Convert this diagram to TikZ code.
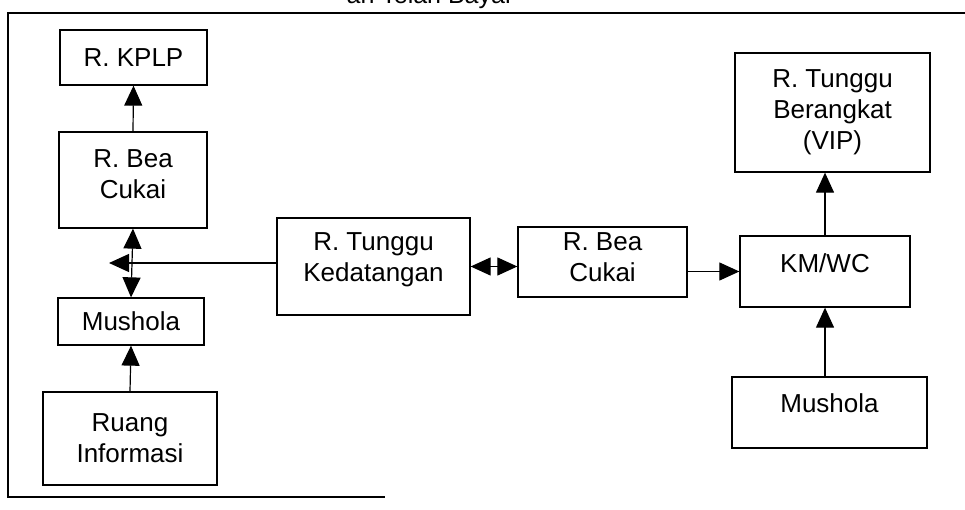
\documentclass[tikz,border=0pt]{standalone}
\usepackage{fontspec}
\setmainfont{Liberation Sans}
\usetikzlibrary{arrows.meta}

\tikzset{
	room/.style={draw, line width=1.3pt, align=center, inner sep=0pt,
		font=\fontsize{26}{31}\selectfont},
	lift/.style={text depth=#1},
	arr/.style={line width=1.2pt, -{Triangle[length=20pt,width=18pt]}},
	dbl/.style={line width=1.2pt, {Triangle[length=20pt,width=18pt]}-{Triangle[length=20pt,width=18pt]}}
}

\begin{document}
\begin{tikzpicture}[x=1pt,y=-1pt]
\useasboundingbox (0,0) rectangle (965,510);

% caption cut off at the top of the page
\begin{scope}
	\clip (0,0) rectangle (965,510);
	\node[anchor=base, inner sep=0pt, font=\fontsize{25}{30}\selectfont] (cap) at (430,4) {an Telah Bayar};
\end{scope}

% frame
\draw[line width=1.3pt] (965,13) -- (8,13) -- (8,497) -- (385,497);

% left column
\node[room, minimum width=147pt, minimum height=55pt] (kplp) at (133.5,57.5) {R. KPLP};
\node[room, minimum width=148pt, minimum height=96pt, lift=12pt] (beaL) at (133,180) {R. Bea\\Cukai};
\node[room, minimum width=146pt, minimum height=47pt] (musL) at (131,321.5) {Mushola};
\node[room, minimum width=174pt, minimum height=93pt] (info) at (130,438.5) {Ruang\\Informasi};

% middle
\node[room, minimum width=193pt, minimum height=97pt, lift=19pt] (tunggu) at (373.5,266.5) {R. Tunggu\\Kedatangan};
\node[room, minimum width=169pt, minimum height=70pt, lift=10pt] (beaM) at (602.5,262) {R. Bea\\Cukai};

% right column
\node[room, minimum width=195pt, minimum height=119pt] (vip) at (832.5,112.5) {R. Tunggu\\Berangkat\\(VIP)};
\node[room, minimum width=170pt, minimum height=71pt, lift=16pt] (kmwc) at (825,271.5) {KM/WC};
\node[room, minimum width=195pt, minimum height=71pt, lift=18pt] (musR) at (829.5,412.5) {Mushola};

\coordinate (junc) at (109,263);

% connectors
\draw[arr] (beaL.north) -- (kplp.south);
\draw[dbl] (beaL.south) -- (musL.north);
\draw[arr] (tunggu.west |- junc) -- (junc);
\draw[arr] (info.north) -- (musL.south);
\draw[dbl] (tunggu.east) -- (beaM.west |- tunggu.east);
\draw[arr] (beaM.east |- kmwc.west) -- (kmwc.west);
\draw[arr] (musR.north -| kmwc.south) -- (kmwc.south);
\draw[arr] (kmwc.north) -- (vip.south -| kmwc.north);

\end{tikzpicture}
\end{document}
